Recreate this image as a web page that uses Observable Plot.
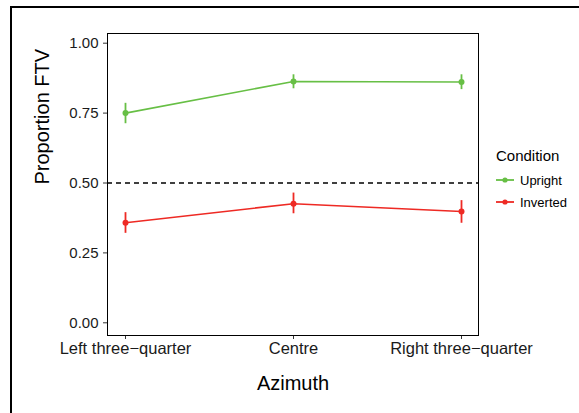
<!DOCTYPE html>
<html><head><meta charset="utf-8">
<script src="https://cdn.jsdelivr.net/npm/d3@7"></script>
<script src="https://cdn.jsdelivr.net/npm/@observablehq/plot@0.6"></script>
<style>
body{margin:0;background:#fff;}
#wrap{position:relative;width:579px;height:413px;overflow:hidden;font-family:"Liberation Sans",Arial,Helvetica,sans-serif;}
#frame{position:absolute;left:10px;top:6px;width:620px;height:440px;border-top:2px solid #000;border-left:2px solid #000;}
#chart{position:absolute;left:0;top:0;}
#legend{position:absolute;left:496px;top:147px;color:#000;}
#legend .title{font-size:15px;line-height:18px;margin-bottom:4px;}
#legend .row{display:flex;align-items:center;height:22px;font-size:13px;}
#legend svg{margin-right:6px;}
</style></head><body>
<div id="wrap"><div id="frame"></div><div id="chart"></div><div id="legend"></div></div>
<script>
const azimuths = ["Left three\u2212quarter", "Centre", "Right three\u2212quarter"];
const conditions = ["Upright", "Inverted"];
const conditionColors = ["#67bf45", "#ee2a24"];
const uprightMean = [0.750, 0.863, 0.861];
const uprightLow = [0.712, 0.837, 0.834];
const uprightHigh = [0.785, 0.887, 0.887];
const invertedMean = [0.358, 0.426, 0.398];
const invertedLow = [0.320, 0.390, 0.356];
const invertedHigh = [0.394, 0.464, 0.437];
const yTicks = [0, 0.25, 0.5, 0.75, 1];
const chanceLevel = 0.5;

const rows = [];
azimuths.forEach((a, i) => {
  rows.push({azimuth: a, condition: "Upright", mean: uprightMean[i], low: uprightLow[i], high: uprightHigh[i]});
  rows.push({azimuth: a, condition: "Inverted", mean: invertedMean[i], low: invertedLow[i], high: invertedHigh[i]});
});

const chart = Plot.plot({
  width: 579, height: 413,
  marginLeft: 107, marginRight: 101, marginTop: 33, marginBottom: 78,
  style: {fontFamily: '"Liberation Sans", Arial, Helvetica, sans-serif', fontSize: "15px", color: "#1a1a1a", background: "transparent"},
  x: {type: "point", domain: azimuths, padding: 0.0986, label: null, axis: null},
  y: {domain: [-0.0454, 1.0347], label: null, axis: null},
  color: {domain: conditions, range: conditionColors},
  marks: [
    Plot.axisY(yTicks, {tickSize: 4, tickPadding: 5, tickFormat: d3.format(".2f"), fontSize: 15, stroke: "#333", fill: "#1a1a1a", label: null}),
    Plot.axisX(azimuths, {tickSize: 4, tickPadding: 3, fontSize: 16.5, stroke: "#333", fill: "#1a1a1a", label: null}),
    Plot.ruleY([chanceLevel], {stroke: "#000", strokeDasharray: "5,4", strokeWidth: 1.3}),
    Plot.line(rows, {x: "azimuth", y: "mean", z: "condition", stroke: "condition", strokeWidth: 1.6}),
    Plot.ruleX(rows, {x: "azimuth", y1: "low", y2: "high", stroke: "condition", strokeWidth: 1.8}),
    Plot.dot(rows, {x: "azimuth", y: "mean", fill: "condition", r: 3}),
    Plot.frame({stroke: "#000", strokeWidth: 1}),
    Plot.text(["Azimuth"], {frameAnchor: "bottom", dy: 48, lineAnchor: "middle", fontSize: 20, fill: "#000"}),
    Plot.text(["Proportion FTV"], {frameAnchor: "left", dx: -65, rotate: -90, lineAnchor: "middle", fontSize: 20, fill: "#000"})
  ]
});
document.getElementById("chart").appendChild(chart);

const legend = document.getElementById("legend");
const t = document.createElement("div");
t.className = "title";
t.textContent = "Condition";
legend.appendChild(t);
conditions.forEach((c, i) => {
  const row = document.createElement("div");
  row.className = "row";
  const col = conditionColors[i];
  row.innerHTML = `<svg width="18" height="10"><line x1="0" x2="18" y1="5" y2="5" stroke="${col}" stroke-width="1.8"/><circle cx="9" cy="5" r="2.6" fill="${col}"/></svg><span>${c}</span>`;
  legend.appendChild(row);
});
</script>
</body></html>
